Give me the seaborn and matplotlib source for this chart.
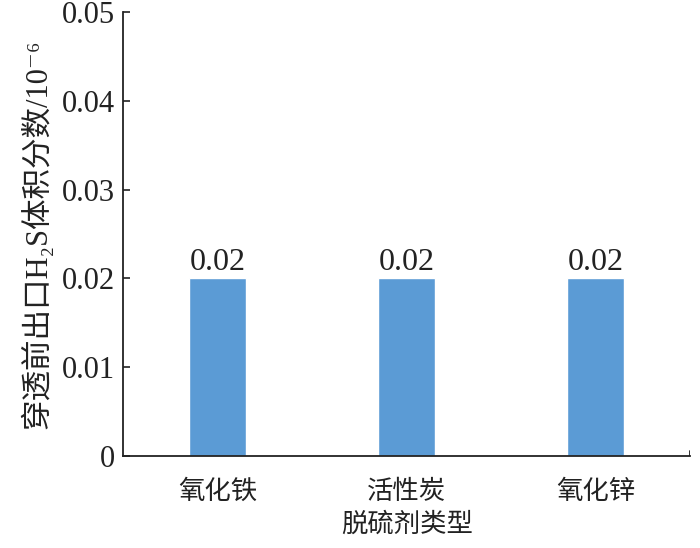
import matplotlib
matplotlib.use("Agg")
import matplotlib.pyplot as plt
import seaborn as sns
import pandas as pd

categories = ["氧化铁", "活性炭", "氧化锌"]
values = [0.02, 0.02, 0.02]
yticks = [0, 0.01, 0.02, 0.03, 0.04, 0.05]
ytick_labels = ["0", "0.01", "0.02", "0.03", "0.04", "0.05"]
xlabel = "脱硫剂类型"
ylabel = "穿透前出口H₂S体积分数/10⁻⁶"

sns.set_theme(style="white")
plt.rcParams['font.family'] = ['Liberation Serif', 'DejaVu Serif', 'Noto Sans CJK SC']

df = pd.DataFrame({"cat": categories, "val": values})

fig = plt.figure(figsize=(7, 5.48), dpi=100)
ax = fig.add_axes([0.176, 0.168, 0.81, 0.81])
sns.barplot(data=df, x="cat", y="val", color="#5B9BD5", saturation=1, width=0.3, ax=ax)

ax.set_xlim(-0.5, 2.5)
ax.set_ylim(0, 0.05)
ax.set_yticks(yticks)
ax.set_yticklabels(ytick_labels, fontsize=22, family='Liberation Serif')
ax.tick_params(axis='y', direction='in', length=5, width=1.2, color='#222222', pad=6, left=True)
ax.tick_params(axis='x', length=0, pad=16)
for lab in ax.get_xticklabels():
    lab.set_fontsize(19)
    lab.set_family(['Noto Sans CJK SC'])
    lab.set_color('#222222')
for lab in ax.get_yticklabels():
    lab.set_color('#222222')

for c in ax.containers:
    ax.bar_label(c, labels=[f"{v:.2f}" for v in values], fontsize=23, padding=1,
                 family='Liberation Serif', color='#222222')

ax.set_xlabel(xlabel, fontsize=19, family=['Noto Sans CJK SC'], color='#222222', labelpad=4)
ax.set_ylabel(ylabel, fontsize=22, color='#222222', labelpad=6,
              family=['Liberation Serif', 'DejaVu Serif', 'Noto Sans CJK SC'])

for s in ['top', 'right']:
    ax.spines[s].set_visible(False)
for s in ['left', 'bottom']:
    ax.spines[s].set_color('#222222')
    ax.spines[s].set_linewidth(1.3)
ax.axvline(2.5, ymin=0, ymax=0.012, color='#222222', lw=1.3)

fig.savefig("out.png", dpi=100)
